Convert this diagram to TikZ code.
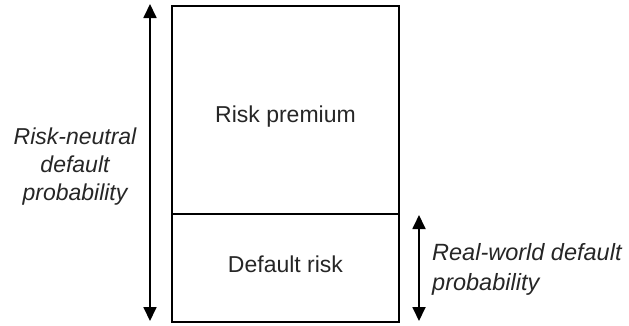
\documentclass[tikz,border=0pt]{standalone}
\usepackage{fontspec}
\setmainfont{Liberation Sans}
\usetikzlibrary{arrows.meta}
\begin{document}
\begin{tikzpicture}[x=1pt,y=-1pt,
    lbl/.style={font=\fontsize{23}{28.5}\selectfont, text=black!85, inner sep=0pt},
    span/.style={line width=1.8pt, {Triangle[width=13pt,length=14pt]}-{Triangle[width=13pt,length=14pt]}}]
  \useasboundingbox (0,0) rectangle (629,325);
  % the two-part box
  \draw[line width=2pt] (172,6) rectangle (399,322);
  \draw[line width=1.6pt] (172,214) -- (399,214);
  \node[lbl] (premium) at (285.5,117) {Risk premium};
  \node[lbl] (defrisk) at (285.5,264) {Default risk};
  % measuring arrows
  \coordinate (ltop) at (150,4);
  \coordinate (lbot) at (150,321);
  \coordinate (rtop) at (419,215);
  \coordinate (rbot) at (419,321);
  \draw[span] (ltop) -- (lbot);
  \draw[span] (rtop) -- (rbot);
  \node[lbl, align=center, font=\fontsize{23}{28}\selectfont\itshape] (neutral) at (75,167) {Risk-neutral\\default\\probability};
  \node[lbl, align=left, anchor=west, font=\fontsize{23.5}{30}\selectfont\itshape] (realworld) at (432,269) {Real-world default\\probability};
\end{tikzpicture}
\end{document}
